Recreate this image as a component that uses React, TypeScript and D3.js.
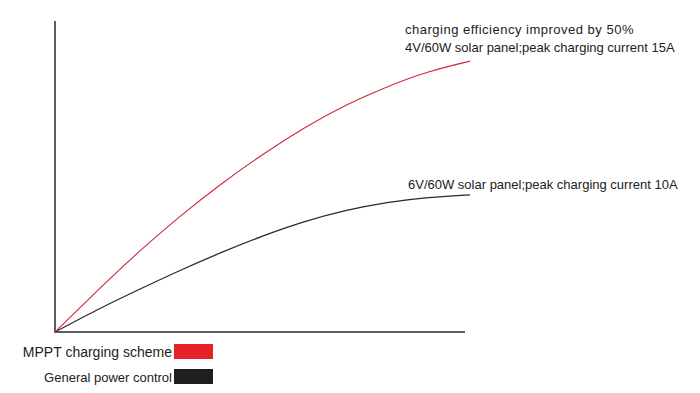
import React, { useEffect, useRef } from 'react';
import * as d3 from 'd3';

// charging current curves (relative units), x = time step
const steps = [0, 1, 2, 3, 4, 5, 6, 7, 8, 9, 10];
const mpptValues = [0, 13, 25.5, 37, 47.5, 57, 65.5, 72.8, 78.8, 83.6, 87.1];
const generalValues = [0, 7, 13.5, 19.7, 25.5, 30.8, 35.4, 39.0, 41.6, 43.2, 44.1];

const legendLabels = ['MPPT charging scheme', 'General power control'];
const legendColors = ['#e8202a', '#1e1e1e'];

const mpptNote = ['charging efficiency improved by 50%', '4V/60W solar panel;peak charging current 15A'];
const generalNote = '6V/60W solar panel;peak charging current 10A';

function App() {
  const ref = useRef<any>(null);
  const width = 700;
  const height = 393;

  useEffect(() => {
    const svg = d3.select(ref.current);
    svg.selectAll('*').remove();

    const x = d3.scaleLinear().domain([0, 10]).range([55, 470]);
    const y = d3.scaleLinear().domain([0, 100]).range([332, 21]);

    // axes: just the two lines
    svg
      .append('path')
      .attr('d', `M${x(0)},${y(100)}V${y(0)}H${x(9.88)}`)
      .attr('fill', 'none')
      .attr('stroke', '#2a2a2a')
      .attr('stroke-width', 1.5);

    const line: any = d3
      .line()
      .x((d: any) => x(d[0]))
      .y((d: any) => y(d[1]))
      .curve(d3.curveNatural);

    svg
      .append('path')
      .datum(steps.map((s, i) => [s, generalValues[i]]))
      .attr('d', line)
      .attr('fill', 'none')
      .attr('stroke', '#2a2a2a')
      .attr('stroke-width', 1.3);

    svg
      .append('path')
      .datum(steps.map((s, i) => [s, mpptValues[i]]))
      .attr('d', line)
      .attr('fill', 'none')
      .attr('stroke', '#d2283a')
      .attr('stroke-width', 1.1);

    const font = 'Liberation Sans, Arial, sans-serif';

    svg
      .selectAll('text.note')
      .data(mpptNote)
      .enter()
      .append('text')
      .attr('class', 'note')
      .attr('x', 405)
      .attr('y', (d, i) => 34 + i * 17.5)
      .attr('font-family', font)
      .attr('font-size', 13)
      .attr('letter-spacing', (d, i) => (i === 0 ? 0.5 : 0))
      .attr('fill', '#222')
      .text((d) => d);

    svg
      .append('text')
      .attr('x', 408)
      .attr('y', 189)
      .attr('font-family', font)
      .attr('font-size', 13)
      .attr('fill', '#222')
      .text(generalNote);

    const legend = svg
      .selectAll('g.legend')
      .data(legendLabels)
      .enter()
      .append('g')
      .attr('class', 'legend')
      .attr('transform', (d, i) => `translate(0,${344 + i * 25})`);

    legend
      .append('rect')
      .attr('x', 174)
      .attr('y', 0)
      .attr('width', 39)
      .attr('height', 15)
      .attr('fill', (d, i) => legendColors[i]);

    legend
      .append('text')
      .attr('x', 172)
      .attr('y', 13)
      .attr('text-anchor', 'end')
      .attr('font-family', font)
      .attr('font-size', (d, i) => (i === 0 ? 14 : 13))
      .attr('fill', '#222')
      .text((d) => d);
  });

  return (
    <svg
      ref={ref}
      width={width}
      height={height}
      style={{ position: 'absolute', left: 0, top: 0, background: '#fff' }}
    ></svg>
  );
}

export default App;
